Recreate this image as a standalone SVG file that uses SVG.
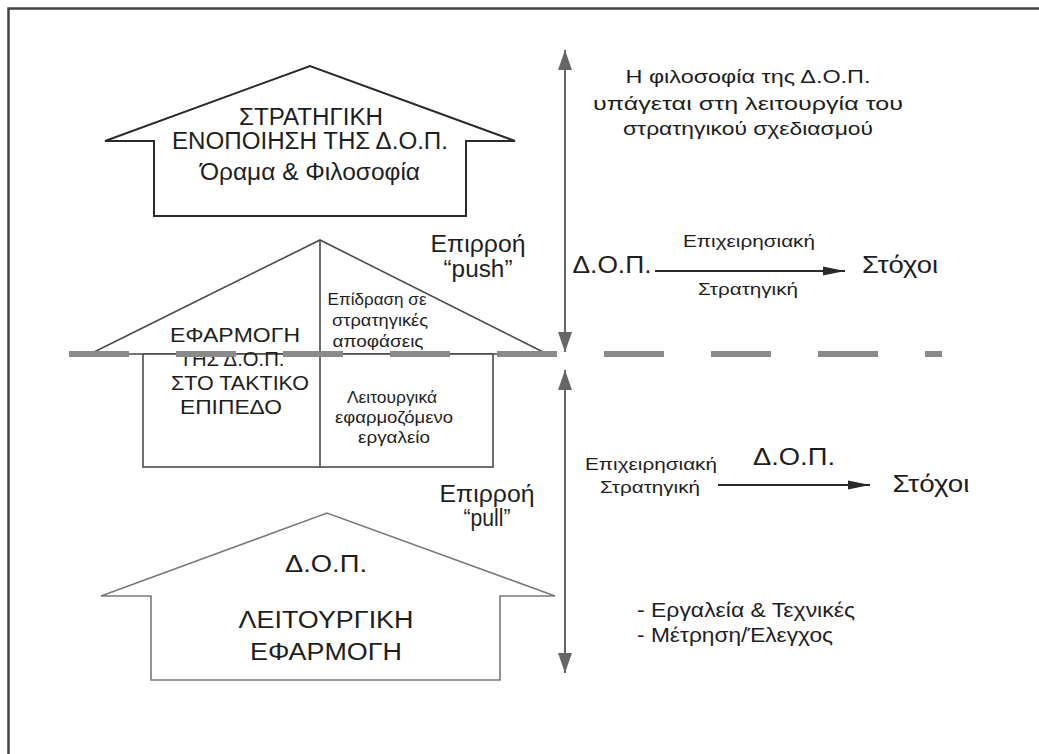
<svg xmlns="http://www.w3.org/2000/svg" width="1039" height="754" viewBox="0 0 1039 754">
  <style>
    text { font-family: "Liberation Sans", Arial, "Noto Sans", sans-serif; fill: #1e1e1e; text-anchor: middle; }
    .house1 { fill: #ffffff; stroke: #2a2a2a; stroke-width: 2; stroke-linejoin: miter; }
    .house2 { fill: #ffffff; stroke: #4a4a4a; stroke-width: 1.6; }
    .house3 { fill: #ffffff; stroke: #7a7a7a; stroke-width: 1.6; }
    .axis { stroke: #666666; stroke-width: 2; fill: none; }
    .flow { stroke: #2a2a2a; stroke-width: 2; fill: none; }
    .divide { stroke: #8a8a8a; stroke-width: 6; stroke-dasharray: 60 47; fill: none; }
    .big { font-size: 23px; }
    .mid { font-size: 21px; }
    .small { font-size: 17px; }
    .note { font-size: 19px; }
    .list { font-size: 21px; text-anchor: start; }
  </style>
  <defs>
    <marker id="headAxis" markerUnits="userSpaceOnUse" markerWidth="20" markerHeight="14" refX="20" refY="7" orient="auto">
      <path d="M0,0 L20,7 L0,14 z" fill="#666666"/>
    </marker>
    <marker id="headFlow" markerUnits="userSpaceOnUse" markerWidth="22" markerHeight="10" refX="22" refY="5" orient="auto">
      <path d="M0,0.5 L22,5 L0,9.5 z" fill="#2a2a2a"/>
    </marker>
  </defs>

  <rect width="1039" height="754" fill="#ffffff"/>
  <!-- outer frame: only top and left edges fall inside the canvas -->
  <path d="M8.5,754 V8.5 H1039" fill="none" stroke="#444444" stroke-width="2.5"/>

  <!-- top house: strategic integration -->
  <g id="house-strategic">
    <path class="house1" d="M105,141 L310,66 L515,141 L466,141 L466,216 L154,216 L154,141 Z"/>
    <text class="big" x="311" y="125" textLength="144" lengthAdjust="spacingAndGlyphs">ΣΤΡΑΤΗΓΙΚΗ</text>
    <text class="big" x="310" y="149" textLength="276" lengthAdjust="spacingAndGlyphs">ΕΝΟΠΟΙΗΣΗ ΤΗΣ Δ.Ο.Π.</text>
    <text class="big" x="310" y="180" textLength="220" lengthAdjust="spacingAndGlyphs">Όραμα &amp; Φιλοσοφία</text>
  </g>

  <!-- middle house: tactical application -->
  <g id="house-tactical">
    <path class="house2" d="M90,354 L320,240 L547,354 Z"/>
    <rect class="house2" x="143" y="354" width="350" height="113"/>
    <line class="house2" x1="320" y1="240" x2="320" y2="467"/>
  </g>

  <g id="house-tactical-labels">
    <text class="mid" x="235" y="342" textLength="130" lengthAdjust="spacingAndGlyphs">ΕΦΑΡΜΟΓΗ</text>
    <text class="mid" x="232" y="366" textLength="105" lengthAdjust="spacingAndGlyphs">ΤΗΣ Δ.Ο.Π.</text>
    <text class="mid" x="240" y="390" textLength="138" lengthAdjust="spacingAndGlyphs">ΣΤΟ ΤΑΚΤΙΚΟ</text>
    <text class="mid" x="231" y="414" textLength="102" lengthAdjust="spacingAndGlyphs">ΕΠΙΠΕΔΟ</text>
    <text class="small" x="377" y="305" textLength="99" lengthAdjust="spacingAndGlyphs">Επίδραση σε</text>
    <text class="small" x="380" y="326" textLength="96" lengthAdjust="spacingAndGlyphs">στρατηγικές</text>
    <text class="small" x="378" y="347" textLength="91" lengthAdjust="spacingAndGlyphs">αποφάσεις</text>
    <text class="small" x="392" y="403" textLength="90" lengthAdjust="spacingAndGlyphs">Λειτουργικά</text>
    <text class="small" x="394" y="423" textLength="118" lengthAdjust="spacingAndGlyphs">εφαρμοζόμενο</text>
    <text class="small" x="394" y="443" textLength="72" lengthAdjust="spacingAndGlyphs">εργαλείο</text>
  </g>

  <!-- dashed boundary between strategic and operational levels -->
  <g id="boundary">
    <line class="divide" x1="69" y1="354" x2="942" y2="354"/>
  </g>

  <!-- bottom house: operational application -->
  <g id="house-operational">
    <path class="house3" d="M101,596 L327,513 L555,596 L500,596 L500,680 L151,680 L151,596 Z"/>
    <text class="big" x="326" y="572" textLength="82" lengthAdjust="spacingAndGlyphs">Δ.Ο.Π.</text>
    <text class="big" x="326" y="628" textLength="175" lengthAdjust="spacingAndGlyphs">ΛΕΙΤΟΥΡΓΙΚΗ</text>
    <text class="big" x="326" y="660" textLength="152" lengthAdjust="spacingAndGlyphs">ΕΦΑΡΜΟΓΗ</text>
  </g>

  <!-- connectors -->
  <g id="connectors">
    <line class="axis" x1="565" y1="200" x2="565" y2="50" marker-end="url(#headAxis)"/>
    <line class="axis" x1="565" y1="200" x2="565" y2="352" marker-end="url(#headAxis)"/>
    <line class="axis" x1="565" y1="520" x2="565" y2="370" marker-end="url(#headAxis)"/>
    <line class="axis" x1="565" y1="520" x2="565" y2="673" marker-end="url(#headAxis)"/>
    <line class="flow" x1="655" y1="271" x2="845" y2="271" marker-end="url(#headFlow)"/>
    <line class="flow" x1="718" y1="485" x2="870" y2="485" marker-end="url(#headFlow)"/>
  </g>

  <!-- influence labels -->
  <g id="label-push">
    <text class="big" x="478" y="252" textLength="95" lengthAdjust="spacingAndGlyphs">Επιρροή</text>
    <text class="big" x="478" y="277" textLength="69" lengthAdjust="spacingAndGlyphs">“push”</text>
  </g>
  <g id="label-pull">
    <text class="big" x="487" y="502" textLength="95" lengthAdjust="spacingAndGlyphs">Επιρροή</text>
    <text class="big" x="487" y="526" textLength="47" lengthAdjust="spacingAndGlyphs">“pull”</text>
  </g>

  <!-- strategic level notes -->
  <g id="note-philosophy">
    <text class="note" x="748" y="83" textLength="245" lengthAdjust="spacingAndGlyphs">Η φιλοσοφία της Δ.Ο.Π.</text>
    <text class="note" x="748" y="110" textLength="310" lengthAdjust="spacingAndGlyphs">υπάγεται στη λειτουργία του</text>
    <text class="note" x="748" y="135" textLength="250" lengthAdjust="spacingAndGlyphs">στρατηγικού σχεδιασμού</text>
  </g>
  <g id="flow-strategic">
    <text class="big" x="612" y="273" textLength="79" lengthAdjust="spacingAndGlyphs">Δ.Ο.Π.</text>
    <text class="small" x="749" y="247" textLength="132" lengthAdjust="spacingAndGlyphs">Επιχειρησιακή</text>
    <text class="small" x="748" y="295" textLength="100" lengthAdjust="spacingAndGlyphs">Στρατηγική</text>
    <text class="big" x="900" y="273" textLength="76" lengthAdjust="spacingAndGlyphs">Στόχοι</text>
  </g>

  <!-- operational level notes -->
  <g id="flow-operational">
    <text class="small" x="651" y="470" textLength="132" lengthAdjust="spacingAndGlyphs">Επιχειρησιακή</text>
    <text class="small" x="650" y="493" textLength="100" lengthAdjust="spacingAndGlyphs">Στρατηγική</text>
    <text class="big" x="794" y="465" textLength="82" lengthAdjust="spacingAndGlyphs">Δ.Ο.Π.</text>
    <text class="big" x="931" y="492" textLength="77" lengthAdjust="spacingAndGlyphs">Στόχοι</text>
  </g>
  <g id="note-tools">
    <text class="list" x="637" y="617" textLength="218" lengthAdjust="spacingAndGlyphs">- Εργαλεία &amp; Τεχνικές</text>
    <text class="list" x="637" y="642" textLength="196" lengthAdjust="spacingAndGlyphs">- Μέτρηση/Έλεγχος</text>
  </g>
</svg>
